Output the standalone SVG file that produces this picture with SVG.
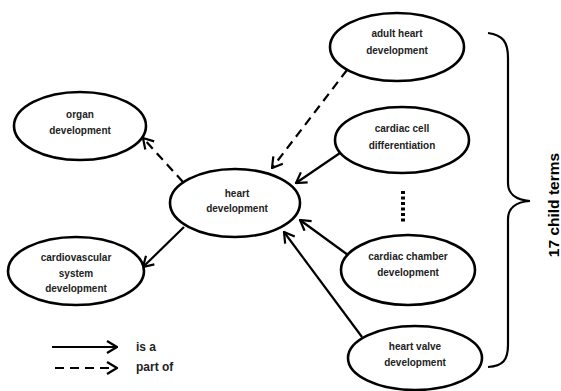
<svg xmlns="http://www.w3.org/2000/svg" width="561" height="391" viewBox="0 0 561 391">
<defs>
<marker id="arr" viewBox="0 0 12 14" refX="11" refY="7" markerWidth="12" markerHeight="14" markerUnits="userSpaceOnUse" orient="auto">
<path d="M1,1 L11,7 L1,13" fill="none" stroke="#000" stroke-width="2.2"/>
</marker>
<style>
.n ellipse{fill:#fff;stroke:#000;stroke-width:2.6}
.n text, .t{font-family:"Liberation Sans",Arial,sans-serif;font-weight:bold;font-size:10px;fill:#222;text-anchor:middle}
.c line{stroke:#000;stroke-width:2.2;marker-end:url(#arr)}
.c .d{stroke-dasharray:9,6}
</style>
</defs>
<rect width="561" height="391" fill="#fff"/>
<g class="c" id="connectors">
<line class="d" x1="183" y1="182" x2="143" y2="138"/>
<line x1="184" y1="227" x2="143" y2="267"/>
<line class="d" x1="347" y1="70" x2="272" y2="168"/>
<line x1="340" y1="153" x2="296" y2="183"/>
<line x1="348" y1="255" x2="300" y2="220"/>
<line x1="362" y1="337" x2="284" y2="232"/>
<line x1="52" y1="347" x2="117" y2="347"/>
<line class="d" x1="55" y1="368" x2="117" y2="368"/>
</g>
<g class="n" id="organ"><ellipse cx="80" cy="126" rx="66" ry="34"/><text x="80" y="118">organ</text><text x="80" y="134">development</text></g>
<g class="n" id="heart"><ellipse cx="235" cy="203" rx="65" ry="34"/><text x="237" y="197">heart</text><text x="237" y="212">development</text></g>
<g class="n" id="cardio"><ellipse cx="76" cy="271" rx="68" ry="34"/><text x="76" y="261">cardiovascular</text><text x="76" y="277">system</text><text x="76" y="292">development</text></g>
<g class="n" id="adult"><ellipse cx="397" cy="47" rx="67" ry="34"/><text x="397" y="37">adult heart</text><text x="397" y="54">development</text></g>
<g class="n" id="cell"><ellipse cx="402" cy="140" rx="67" ry="33"/><text x="402" y="132">cardiac cell</text><text x="402" y="149">differentiation</text></g>
<g class="n" id="chamber"><ellipse cx="408" cy="270" rx="67" ry="35"/><text x="408" y="260">cardiac chamber</text><text x="408" y="276">development</text></g>
<g class="n" id="valve"><ellipse cx="415" cy="358" rx="67" ry="32"/><text x="415" y="350">heart valve</text><text x="415" y="366">development</text></g>
<line x1="403" y1="191" x2="403" y2="222" stroke="#000" stroke-width="4" stroke-dasharray="3,2.5"/>
<path d="M488,33 C503,35 508,42 508,58 L508,183 C508,193 515,200 530,201 C515,202 508,209 508,219 L508,345 C508,360 503,366 488,367" fill="none" stroke="#000" stroke-width="2.2"/>
<text class="t" transform="translate(559,205) rotate(-90)" style="font-size:15.5px;fill:#000">17 child terms</text>
<text class="t" x="136" y="351" style="text-anchor:start;font-size:12px">is a</text>
<text class="t" x="136" y="371" style="text-anchor:start;font-size:12px">part of</text>
</svg>
